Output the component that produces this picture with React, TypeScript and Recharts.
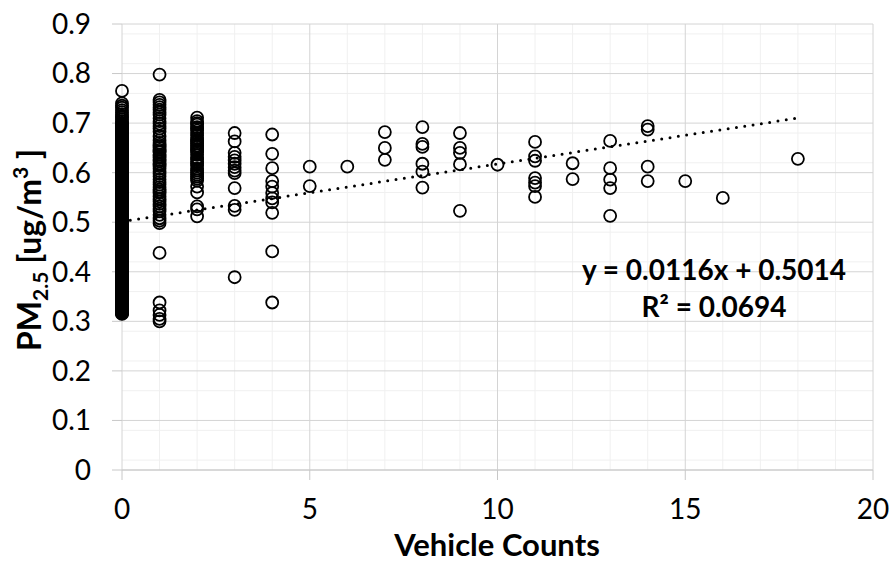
import { ScatterChart, Scatter, XAxis, YAxis, CartesianGrid, Label } from 'recharts'

const VEHICLE_COUNTS = [0, 1, 2, 3, 4, 5, 6, 7, 8, 9, 10, 11, 12, 13, 14, 15, 16, 18]

// x = 0 is a solid band of overlapping markers (hundreds of readings)
const PM25_AT_0 = [
  0.315, 0.317, 0.319, 0.321, 0.323, 0.325, 0.327, 0.329, 0.331, 0.333,
  0.335, 0.337, 0.339, 0.341, 0.343, 0.345, 0.347, 0.349, 0.351, 0.353,
  0.355, 0.357, 0.359, 0.361, 0.363, 0.365, 0.367, 0.369, 0.371, 0.373,
  0.375, 0.377, 0.379, 0.381, 0.383, 0.385, 0.387, 0.389, 0.391, 0.393,
  0.395, 0.397, 0.399, 0.401, 0.403, 0.405, 0.407, 0.409, 0.411, 0.413,
  0.415, 0.417, 0.419, 0.421, 0.423, 0.425, 0.427, 0.429, 0.431, 0.433,
  0.435, 0.437, 0.439, 0.441, 0.443, 0.445, 0.447, 0.449, 0.451, 0.453,
  0.455, 0.457, 0.459, 0.461, 0.463, 0.465, 0.467, 0.469, 0.471, 0.473,
  0.475, 0.477, 0.479, 0.481, 0.483, 0.485, 0.487, 0.489, 0.491, 0.493,
  0.495, 0.497, 0.499, 0.501, 0.503, 0.505, 0.507, 0.509, 0.511, 0.513,
  0.515, 0.517, 0.519, 0.521, 0.523, 0.525, 0.527, 0.529, 0.531, 0.533,
  0.535, 0.537, 0.539, 0.541, 0.543, 0.545, 0.547, 0.549, 0.551, 0.553,
  0.555, 0.557, 0.559, 0.561, 0.563, 0.565, 0.567, 0.569, 0.571, 0.573,
  0.575, 0.577, 0.579, 0.581, 0.583, 0.585, 0.587, 0.589, 0.591, 0.593,
  0.595, 0.597, 0.599, 0.601, 0.603, 0.605, 0.607, 0.609, 0.611, 0.613,
  0.615, 0.617, 0.619, 0.621, 0.623, 0.625, 0.627, 0.629, 0.631, 0.633,
  0.635, 0.637, 0.639, 0.641, 0.643, 0.645, 0.647, 0.649, 0.651, 0.653,
  0.655, 0.657, 0.659, 0.661, 0.663, 0.665, 0.667, 0.669, 0.671, 0.673,
  0.675, 0.677, 0.679, 0.681, 0.683, 0.685, 0.687, 0.689, 0.691, 0.693,
  0.695, 0.697, 0.699, 0.703, 0.707, 0.711, 0.714, 0.718, 0.722, 0.726,
  0.731, 0.735, 0.740, 0.765,
  0.316, 0.318, 0.320, 0.322, 0.324, 0.326, 0.328, 0.330, 0.332, 0.334,
  0.336, 0.338, 0.340, 0.342, 0.344, 0.346, 0.348, 0.350, 0.352, 0.354,
  0.356, 0.358, 0.360, 0.362, 0.364, 0.366, 0.368, 0.370, 0.372, 0.374,
  0.376, 0.378, 0.380, 0.382, 0.384, 0.386, 0.388, 0.390, 0.392, 0.394,
  0.396, 0.398, 0.400, 0.402, 0.404, 0.406, 0.408, 0.410, 0.412, 0.414,
  0.416, 0.418, 0.420, 0.422, 0.424, 0.426, 0.428, 0.430, 0.432, 0.434,
  0.436, 0.438, 0.440, 0.442, 0.444, 0.446, 0.448, 0.450, 0.452, 0.454,
  0.456, 0.458, 0.460, 0.462, 0.464, 0.466, 0.468, 0.470, 0.472, 0.474,
  0.476, 0.478, 0.480, 0.482, 0.484, 0.486, 0.488, 0.490, 0.492, 0.494,
  0.496, 0.498, 0.500, 0.502, 0.504, 0.506, 0.508, 0.510, 0.512, 0.514,
  0.516, 0.518, 0.520, 0.522, 0.524, 0.526, 0.528, 0.530, 0.532, 0.534,
  0.536, 0.538, 0.540, 0.542, 0.544, 0.546, 0.548, 0.550, 0.552, 0.554,
  0.556, 0.558, 0.560, 0.562, 0.564, 0.566, 0.568, 0.570, 0.572, 0.574,
  0.576, 0.578, 0.580, 0.582, 0.584, 0.586, 0.588, 0.590, 0.592, 0.594,
  0.596, 0.598, 0.600, 0.602, 0.604, 0.606, 0.608, 0.610, 0.612, 0.614,
  0.616, 0.618, 0.620, 0.622, 0.624, 0.626, 0.628, 0.630, 0.632, 0.634,
  0.636, 0.638, 0.640, 0.642, 0.644, 0.646, 0.648, 0.650, 0.652, 0.654,
  0.656, 0.658, 0.660, 0.662, 0.664, 0.666, 0.668, 0.670, 0.672, 0.674,
  0.676, 0.678, 0.680, 0.682, 0.684, 0.686, 0.688, 0.690, 0.692, 0.694,
  0.696, 0.698,
]
const PM25_AT_1 = [
  0.798, 0.747, 0.742, 0.737, 0.732, 0.727, 0.722, 0.717, 0.710, 0.704,
  0.699, 0.694, 0.689, 0.683, 0.673, 0.665, 0.660, 0.656, 0.653, 0.650,
  0.646, 0.643, 0.641, 0.636, 0.633, 0.630, 0.626, 0.623, 0.618, 0.616,
  0.613, 0.608, 0.603, 0.598, 0.593, 0.586, 0.581, 0.576, 0.571, 0.566,
  0.562, 0.559, 0.552, 0.547, 0.542, 0.537, 0.532, 0.527, 0.522, 0.515,
  0.508, 0.503, 0.498, 0.438, 0.338, 0.322, 0.313, 0.305, 0.300,
]
const PM25_AT_2 = [
  0.711, 0.704, 0.700, 0.697, 0.692, 0.689, 0.685, 0.680, 0.676, 0.670,
  0.666, 0.663, 0.659, 0.655, 0.652, 0.648, 0.645, 0.641, 0.636, 0.630,
  0.627, 0.622, 0.618, 0.615, 0.608, 0.604, 0.600, 0.596, 0.592, 0.588,
  0.584, 0.572, 0.560, 0.532, 0.526, 0.512,
]
const PM25_AT_3 = [0.680, 0.663, 0.640, 0.632, 0.625, 0.618, 0.611, 0.604, 0.599, 0.569, 0.533, 0.525, 0.389]
const PM25_AT_4 = [0.677, 0.638, 0.609, 0.583, 0.572, 0.559, 0.548, 0.540, 0.519, 0.441, 0.338]
const PM25_AT_5 = [0.612, 0.573]
const PM25_AT_6 = [0.612]
const PM25_AT_7 = [0.682, 0.650, 0.626]
const PM25_AT_8 = [0.692, 0.658, 0.652, 0.618, 0.602, 0.570]
const PM25_AT_9 = [0.680, 0.650, 0.640, 0.617, 0.523]
const PM25_AT_10 = [0.616]
const PM25_AT_11 = [0.662, 0.633, 0.624, 0.589, 0.580, 0.573, 0.551]
const PM25_AT_12 = [0.619, 0.587]
const PM25_AT_13 = [0.664, 0.609, 0.586, 0.569, 0.513]
const PM25_AT_14 = [0.694, 0.687, 0.612, 0.583]
const PM25_AT_15 = [0.583]
const PM25_AT_16 = [0.549]
const PM25_AT_18 = [0.628]

const PM25_BY_COUNT = [
  PM25_AT_0, PM25_AT_1, PM25_AT_2, PM25_AT_3, PM25_AT_4, PM25_AT_5,
  PM25_AT_6, PM25_AT_7, PM25_AT_8, PM25_AT_9, PM25_AT_10, PM25_AT_11,
  PM25_AT_12, PM25_AT_13, PM25_AT_14, PM25_AT_15, PM25_AT_16, PM25_AT_18,
]

const TREND_SLOPE = 0.0116
const TREND_INTERCEPT = 0.5014
const TREND_RANGE = [0, 18]

const X_TICKS = [0, 5, 10, 15, 20]
const Y_TICKS = [0, 0.1, 0.2, 0.3, 0.4, 0.5, 0.6, 0.7, 0.8, 0.9]
const X_MINOR = [1, 2, 3, 4, 6, 7, 8, 9, 11, 12, 13, 14, 16, 17, 18, 19]
const Y_MINOR = Y_TICKS.slice(0, -1).flatMap((t) =>
  [2, 4, 6, 8].map((k) => Math.round((t + k / 100) * 100) / 100),
)

const FONT = 'Lato, "Open Sans", sans-serif'
const MAJOR_GRID = '#d4d4d4'
const MINOR_GRID = '#f0f0f0'

const points = VEHICLE_COUNTS.flatMap((x, i) => PM25_BY_COUNT[i].map((y) => ({ x, y })))
const trend = TREND_RANGE.map((x) => ({ x, y: TREND_SLOPE * x + TREND_INTERCEPT }))

function OpenCircle(props: any) {
  const { cx, cy } = props
  return <circle cx={cx} cy={cy} r={6} fill="none" stroke="#000" strokeWidth={1.8} />
}

function NoMarker() {
  return <g />
}

function YTitle() {
  return (
    <text
      transform="rotate(-90, 41, 250)"
      x={41}
      y={250}
      textAnchor="middle"
      fontFamily={FONT}
      fontWeight={700}
      fontSize={32}
      fill="#000"
      stroke="none"
    >
      PM
      <tspan fontSize={21} dy={7}>2.5</tspan>
      <tspan dy={-7}> [ug/m</tspan>
      <tspan fontSize={21} dy={-13}>3</tspan>
      <tspan dy={13}> ]</tspan>
    </text>
  )
}

function XTitle() {
  return (
    <text x={497} y={556} textAnchor="middle" fontFamily={FONT} fontWeight={700} fontSize={31} fill="#000" stroke="none">
      Vehicle Counts
    </text>
  )
}

function Equation() {
  return (
    <g>
      <text x={714} y={280} textAnchor="middle" fontFamily={FONT} fontWeight={700} fontSize={28} fill="#000" stroke="none">
        y = 0.0116x + 0.5014
      </text>
      <text x={714} y={317} textAnchor="middle" fontFamily={FONT} fontWeight={700} fontSize={28} fill="#000" stroke="none">
        R² = 0.0694
      </text>
    </g>
  )
}

export default function App() {
  return (
    <div style={{ position: 'absolute', left: 0, top: 0, width: 893, height: 563, background: '#fff' }}>
      <ScatterChart width={893} height={563} margin={{ top: 24, right: 20, left: 0, bottom: 0 }}>
        <CartesianGrid horizontalValues={Y_MINOR} verticalValues={X_MINOR} stroke={MINOR_GRID} />
        <CartesianGrid horizontalValues={Y_TICKS} verticalValues={X_TICKS} stroke={MAJOR_GRID} />
        <XAxis
          type="number"
          dataKey="x"
          domain={[0, 20]}
          ticks={X_TICKS}
          height={93}
          tickSize={10}
          tickMargin={19}
          axisLine={{ stroke: '#c8c8c8' }}
          tickLine={{ stroke: '#c8c8c8' }}
          tick={{ fill: '#000', fontSize: 28, fontFamily: FONT }}
        >
          <Label content={<XTitle />} />
          <Label content={<Equation />} />
        </XAxis>
        <YAxis
          type="number"
          dataKey="y"
          domain={[0, 0.9]}
          ticks={Y_TICKS}
          width={122}
          tickSize={10}
          tickMargin={21}
          tickFormatter={(v) => String(v)}
          axisLine={false}
          tickLine={{ stroke: '#c8c8c8' }}
          tick={{ fill: '#000', fontSize: 28, fontFamily: FONT }}
        >
          <Label content={<YTitle />} />
        </YAxis>
        <Scatter data={points} shape={<OpenCircle />} isAnimationActive={false} zIndex={2500} />
        <Scatter
          data={trend}
          shape={<NoMarker />}
          line={{ stroke: '#000', strokeWidth: 3, strokeDasharray: '0 8.4', strokeLinecap: 'round' }}
          lineType="joint"
          isAnimationActive={false}
          zIndex={2600}
        />
      </ScatterChart>
    </div>
  )
}
